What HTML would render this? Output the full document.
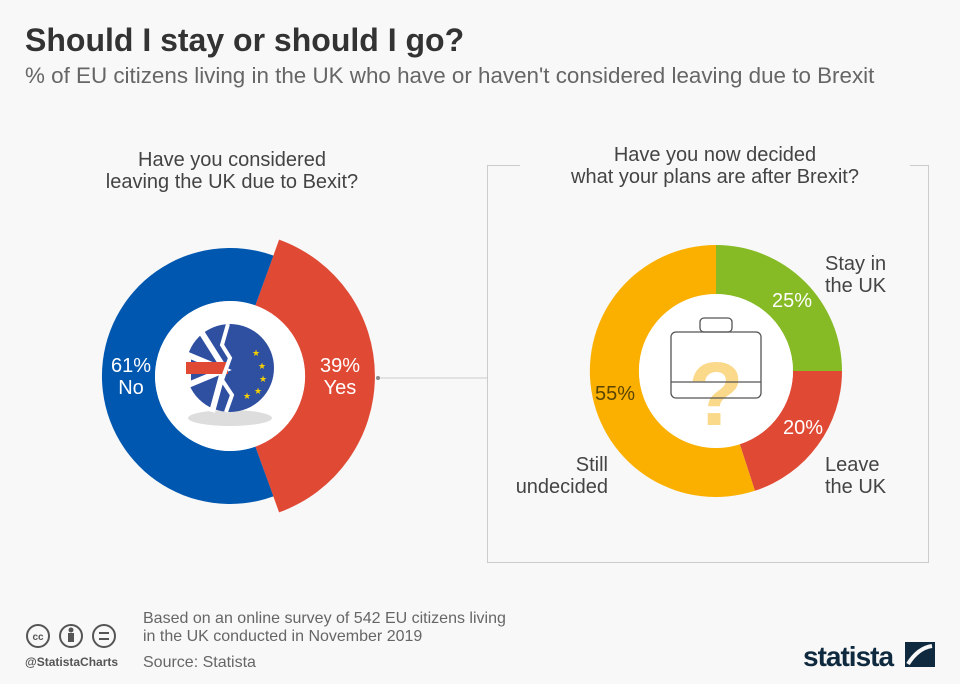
<!DOCTYPE html>
<html><head><meta charset="utf-8"><style>
body{margin:0;width:960px;height:684px;background:#f8f8f8;font-family:"Liberation Sans","DejaVu Sans",sans-serif;position:relative;overflow:hidden;color:#444}
.a{position:absolute}
</style></head><body>
<div class="a" style="left:25px;top:22px;font-size:32px;font-weight:bold;color:#333">Should I stay or should I go?</div>
<div class="a" style="left:25px;top:63px;font-size:22.4px;color:#666">% of EU citizens living in the UK who have or haven't considered leaving due to Brexit</div>
<div class="a" style="left:82px;top:149px;width:300px;text-align:center;font-size:20px;line-height:22px;color:#444">Have you considered<br>leaving the UK due to Bexit?</div>
<div class="a" style="left:487px;top:165px;width:440px;height:396px;border:1px solid #ccc"></div>
<div class="a" style="left:520px;top:144px;width:390px;text-align:center;font-size:20px;line-height:22px;color:#444;background:#f8f8f8">Have you now decided<br>what your plans are after Brexit?</div>
<svg class="a" style="left:0;top:0" width="960" height="684">
<line x1="378" y1="378" x2="487" y2="378" stroke="#ccc"/>
<circle cx="378" cy="378" r="2" fill="#888"/>
<path d="M279.1,239.6 A145,145 0 0 1 279.1,512.4 L255.4,446.6 A75,75 0 0 0 255.4,305.4 Z" fill="#e04a35"/>
<path d="M273.4,496.4 A128,128 0 1 1 273.4,255.6 L255.4,305.4 A75,75 0 1 0 255.4,446.6 Z" fill="#0057b0"/>
<circle cx="230" cy="376" r="75" fill="#fff"/>
<ellipse cx="230" cy="418" rx="42" ry="8" fill="#ddd"/>
<circle cx="230" cy="368" r="44" fill="#2f4fa0"/>
<path d="M188,355 L224,370 L188,385Z M200,330 L224,368 L212,412" fill="none" stroke="#fff" stroke-width="6"/>
<rect x="186" y="362" width="42" height="12" fill="#e04a35"/>
<path d="M228,324 L222,345 L230,358 L222,380 L232,395 L226,412" fill="none" stroke="#fff" stroke-width="4"/>
<g fill="#f5d000" font-size="9"><text x="252" y="356">★</text><text x="258" y="369">★</text><text x="259" y="382">★</text><text x="254" y="394">★</text><text x="243" y="399">★</text></g>
<path d="M716,245 A126,126 0 0 1 842,371 L793,371 A77,77 0 0 0 716,294 Z" fill="#86bb26"/>
<path d="M842,371 A126,126 0 0 1 754.9,490.8 L739.8,444.2 A77,77 0 0 0 793,371 Z" fill="#e04a35"/>
<path d="M754.9,490.8 A126,126 0 1 1 716,245 L716,294 A77,77 0 1 0 739.8,444.2 Z" fill="#fbb000"/>
<circle cx="716" cy="371" r="77" fill="#fff"/>
<text x="716" y="425" text-anchor="middle" font-size="90" font-weight="bold" fill="#fbd98a">?</text>
<rect x="671" y="332" width="90" height="66" rx="5" fill="none" stroke="#555" stroke-width="1.3"/>
<rect x="700" y="318" width="32" height="14" rx="4" fill="none" stroke="#555" stroke-width="1.3"/>
<line x1="671" y1="382" x2="761" y2="382" stroke="#555" stroke-width="1.3"/>
<g font-size="20" fill="#fff" text-anchor="middle"><text x="131" y="372">61%</text><text x="131" y="394">No</text><text x="340" y="372">39%</text><text x="340" y="394">Yes</text>
<text x="792" y="307">25%</text><text x="803" y="434">20%</text></g>
<text x="615" y="400" font-size="20" fill="#5a4500" text-anchor="middle">55%</text>
<g font-size="20" fill="#444"><text x="825" y="270">Stay in</text><text x="825" y="292">the UK</text><text x="825" y="471">Leave</text><text x="825" y="493">the UK</text>
<text x="608" y="471" text-anchor="end">Still</text><text x="608" y="493" text-anchor="end">undecided</text></g>
<g fill="none" stroke="#555" stroke-width="2"><circle cx="38" cy="636" r="11"/><circle cx="71" cy="636" r="11"/><circle cx="104" cy="636" r="11"/></g>
<text x="38" y="640" font-size="10" font-weight="bold" fill="#555" text-anchor="middle">cc</text>
<circle cx="71" cy="630" r="2.5" fill="#555"/><rect x="68" y="633" width="6" height="9" fill="#555"/>
<rect x="99" y="632" width="10" height="2" fill="#555"/><rect x="99" y="638" width="10" height="2" fill="#555"/>
<text x="25" y="666" font-size="12" font-weight="bold" fill="#555">@StatistaCharts</text>
<text x="143" y="623" font-size="16" fill="#666">Based on an online survey of 542 EU citizens living</text>
<text x="143" y="641" font-size="16" fill="#666">in the UK conducted in November 2019</text>
<text x="143" y="667" font-size="16" fill="#666">Source: Statista</text>
<text x="803" y="666" font-size="28" font-weight="bold" fill="#0f2a3f" letter-spacing="-1">statista</text>
<rect x="905" y="642" width="30" height="25" fill="#0f2a3f"/>
<path d="M908,664 Q918,648 932,646" stroke="#f8f8f8" stroke-width="4" fill="none"/>
</svg>
</body></html>
